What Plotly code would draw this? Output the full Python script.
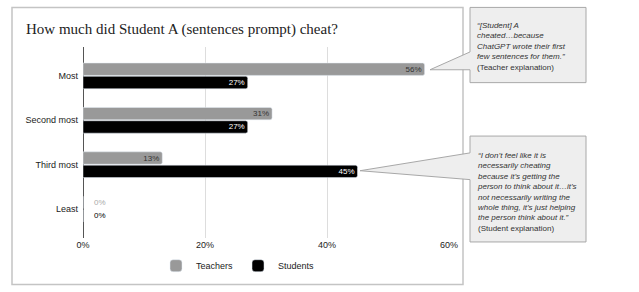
import plotly.graph_objects as go

categories = ["Most", "Second most", "Third most", "Least"]
teachers = [56, 31, 13, 0]
students = [27, 27, 45, 0]
x_ticks = [0, 20, 40, 60]
x_tick_labels = ["0%", "20%", "40%", "60%"]
title_text = "How much did Student A (sentences prompt) cheat?"
teacher_quote = ["\u201c[Student] A", "cheated\u2026because", "ChatGPT wrote their first", "few sentences for them.\u201d"]
teacher_src = "(Teacher explanation)"
student_quote = ["\u201cI don\u2019t feel like it is", "necessarily cheating", "because it\u2019s getting the",
                 "person to think about it\u2026it\u2019s", "not necessarily writing the",
                 "whole thing, it\u2019s just helping", "the person think about it.\u201d"]
student_src = "(Student explanation)"

W, H = 639, 292
L, R, T, B = 83, 449, 47, 240
XMAX = 60

def px(x):
    return (x - L) / (R - L)

def py(y):
    return (B - y) / (B - T)

def dx(v):
    return v / XMAX

SANS = "Liberation Sans, Arial, sans-serif"

def labels(vals):
    # zero-length bars get a label set a little right of the axis, like the original
    return [f"{v}%" if v > 0 else f"\u2002\u2002{v}%" for v in vals]

fig = go.Figure()
fig.add_trace(go.Bar(
    name="Teachers", y=categories, x=teachers, orientation="h",
    marker=dict(color="#999999", cornerradius=2),
    text=labels(teachers), texttemplate="%{text}",
    textposition=["inside" if v > 0 else "outside" for v in teachers],
    insidetextanchor="end", constraintext="none", textangle=0,
    insidetextfont=dict(color="#333333", size=8, family=SANS),
    outsidetextfont=dict(color="#aaaaaa", size=8, family=SANS),
    cliponaxis=False,
))
fig.add_trace(go.Bar(
    name="Students", y=categories, x=students, orientation="h",
    marker=dict(color="#000000", cornerradius=2),
    text=labels(students), texttemplate="%{text}",
    textposition=["inside" if v > 0 else "outside" for v in students],
    insidetextanchor="end", constraintext="none", textangle=0,
    insidetextfont=dict(color="#ffffff", size=8, family=SANS),
    outsidetextfont=dict(color="#000000", size=8, family=SANS),
    cliponaxis=False,
))

shapes = []
# outer chart frame
shapes.append(dict(type="rect", xref="paper", yref="paper",
                   x0=px(12), x1=px(463), y0=py(7), y1=py(287),
                   line=dict(color="#c4c4c4", width=1.5), fillcolor="rgba(0,0,0,0)", layer="below"))

def callout(x0, x1, y0, y1, tip_x, tip_y, a_top, a_bot):
    path = (f"M {px(x0)},{py(y0)} L {px(x1)},{py(y0)} L {px(x1)},{py(y1)} L {px(x0)},{py(y1)} "
            f"L {px(x0)},{py(a_bot)} L {tip_x},{tip_y} L {px(x0)},{py(a_top)} Z")
    return dict(type="path", xref="paper", yref="paper", path=path,
                line=dict(color="#a8a8a8", width=1), fillcolor="#eeeeee", layer="above")

# tip positions derived from the bars they point to (Most/Teachers, Third most/Students)
tip1_x = dx(teachers[0]) + px(430) - dx(56)
tip2_x = dx(students[2]) + px(360) - dx(45)
shapes.append(callout(470, 586, 7, 83, tip1_x, py(70), 52, 70))
shapes.append(callout(470, 586, 137, 244, tip2_x, py(172), 154, 181))

annotations = []
annotations.append(dict(
    xref="paper", yref="paper", x=px(475), y=py(19), xanchor="left", yanchor="top", align="left",
    showarrow=False, font=dict(size=8, color="#333333", family=SANS),
    text="<br>".join(f"<i>{s}</i>" for s in teacher_quote) + "<br>" + teacher_src))
annotations.append(dict(
    xref="paper", yref="paper", x=px(475), y=py(150), xanchor="left", yanchor="top", align="left",
    showarrow=False, font=dict(size=8, color="#333333", family=SANS),
    text="<br>".join(f"<i>{s}</i>" for s in student_quote) + "<br>" + student_src))

fig.update_layout(
    width=W, height=H,
    margin=dict(l=L, r=W - R, t=T, b=H - B, pad=0),
    paper_bgcolor="white", plot_bgcolor="white",
    title=dict(text=title_text, x=26 / W, y=1 - 29 / H, xref="container", yref="container",
               xanchor="left", yanchor="middle",
               font=dict(family="Liberation Serif, Times New Roman, serif", size=15, color="#222222")),
    barmode="group", bargap=0.4, bargroupgap=0.07,
    uniformtext=dict(mode=False),
    xaxis=dict(range=[0, XMAX], tickvals=x_ticks, ticktext=x_tick_labels,
               showgrid=True, gridcolor="#dddddd", gridwidth=1,
               zeroline=True, zerolinecolor="#555555", zerolinewidth=1.2,
               tickfont=dict(size=9, color="#222222", family=SANS), ticks="", ticklen=0,
               fixedrange=True),
    yaxis=dict(categoryorder="array", categoryarray=categories, range=[3.65, -0.65],
               tickfont=dict(size=9, color="#222222", family=SANS), ticks="", showgrid=False,
               ticklabelstandoff=4),
    legend=dict(orientation="h", x=px(238), y=py(268), xanchor="center", yanchor="middle",
                font=dict(size=9, color="#222222", family=SANS), itemwidth=30,
                bgcolor="rgba(0,0,0,0)"),
    shapes=shapes, annotations=annotations,
    showlegend=True,
)

fig.write_html("out.html")
